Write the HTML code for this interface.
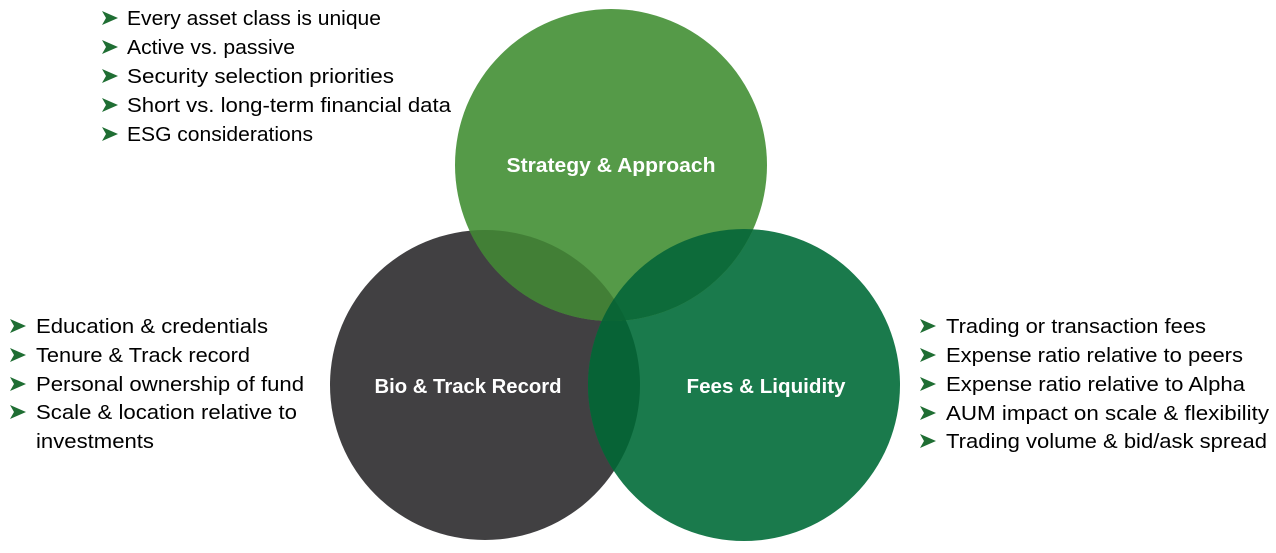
<!DOCTYPE html>
<html><head><meta charset="utf-8"><style>
html,body{margin:0;padding:0;background:#fff;}
svg{display:block;}
text{font-family:"Liberation Sans",sans-serif;}
.b{font-size:20px;fill:#000;}
.l{font-size:20px;font-weight:bold;fill:#fff;}
</style></head><body>
<svg width="1276" height="553" viewBox="0 0 1276 553" xmlns="http://www.w3.org/2000/svg">
<defs>
<clipPath id="cT"><circle cx="611" cy="165" r="156"/></clipPath>
<clipPath id="cD"><circle cx="485" cy="385" r="155"/></clipPath>
<clipPath id="cR"><circle cx="744" cy="385" r="156"/></clipPath>
<symbol id="ar" viewBox="0 0 16 14"><polygon points="0,0 16,7 0,14 4,7" fill="#1f6e33"/></symbol>
</defs>
<circle cx="485" cy="385" r="155" fill="#414042"/>
<circle cx="744" cy="385" r="156" fill="#1a7a4c"/>
<circle cx="611" cy="165" r="156" fill="#559a48"/>
<g clip-path="url(#cD)"><circle cx="744" cy="385" r="156" fill="#076336"/></g>
<g clip-path="url(#cT)"><circle cx="485" cy="385" r="155" fill="#427f36"/></g>
<g clip-path="url(#cT)"><circle cx="744" cy="385" r="156" fill="#0d6b3a"/></g>
<g clip-path="url(#cT)"><g clip-path="url(#cD)"><circle cx="744" cy="385" r="156" fill="#0a6535"/></g></g>

<text class="l" x="611" y="172" text-anchor="middle" textLength="209" lengthAdjust="spacingAndGlyphs">Strategy &amp; Approach</text>
<text class="l" x="468" y="393" text-anchor="middle" textLength="187" lengthAdjust="spacingAndGlyphs">Bio &amp; Track Record</text>
<text class="l" x="766" y="393" text-anchor="middle" textLength="159" lengthAdjust="spacingAndGlyphs">Fees &amp; Liquidity</text>

<use href="#ar" x="102" y="11" width="16" height="14"/>
<use href="#ar" x="102" y="40" width="16" height="14"/>
<use href="#ar" x="102" y="69" width="16" height="14"/>
<use href="#ar" x="102" y="98" width="16" height="14"/>
<use href="#ar" x="102" y="127" width="16" height="14"/>
<text class="b" x="127" y="25" textLength="254" lengthAdjust="spacingAndGlyphs">Every asset class is unique</text>
<text class="b" x="127" y="54" textLength="168" lengthAdjust="spacingAndGlyphs">Active vs. passive</text>
<text class="b" x="127" y="83" textLength="267" lengthAdjust="spacingAndGlyphs">Security selection priorities</text>
<text class="b" x="127" y="112" textLength="324" lengthAdjust="spacingAndGlyphs">Short vs. long-term financial data</text>
<text class="b" x="127" y="141" textLength="186" lengthAdjust="spacingAndGlyphs">ESG considerations</text>

<use href="#ar" x="10" y="319" width="16" height="14"/>
<use href="#ar" x="10" y="348" width="16" height="14"/>
<use href="#ar" x="10" y="377" width="16" height="14"/>
<use href="#ar" x="10" y="405" width="16" height="14"/>
<text class="b" x="36" y="333" textLength="232" lengthAdjust="spacingAndGlyphs">Education &amp; credentials</text>
<text class="b" x="36" y="362" textLength="214" lengthAdjust="spacingAndGlyphs">Tenure &amp; Track record</text>
<text class="b" x="36" y="391" textLength="268" lengthAdjust="spacingAndGlyphs">Personal ownership of fund</text>
<text class="b" x="36" y="419" textLength="261" lengthAdjust="spacingAndGlyphs">Scale &amp; location relative to</text>
<text class="b" x="36" y="448" textLength="118" lengthAdjust="spacingAndGlyphs">investments</text>

<use href="#ar" x="920" y="319" width="16" height="14"/>
<use href="#ar" x="920" y="348" width="16" height="14"/>
<use href="#ar" x="920" y="377" width="16" height="14"/>
<use href="#ar" x="920" y="406" width="16" height="14"/>
<use href="#ar" x="920" y="434" width="16" height="14"/>
<text class="b" x="946" y="333" textLength="260" lengthAdjust="spacingAndGlyphs">Trading or transaction fees</text>
<text class="b" x="946" y="362" textLength="297" lengthAdjust="spacingAndGlyphs">Expense ratio relative to peers</text>
<text class="b" x="946" y="391" textLength="299" lengthAdjust="spacingAndGlyphs">Expense ratio relative to Alpha</text>
<text class="b" x="946" y="420" textLength="323" lengthAdjust="spacingAndGlyphs">AUM impact on scale &amp; flexibility</text>
<text class="b" x="946" y="448" textLength="321" lengthAdjust="spacingAndGlyphs">Trading volume &amp; bid/ask spread</text>
</svg>
</body></html>
